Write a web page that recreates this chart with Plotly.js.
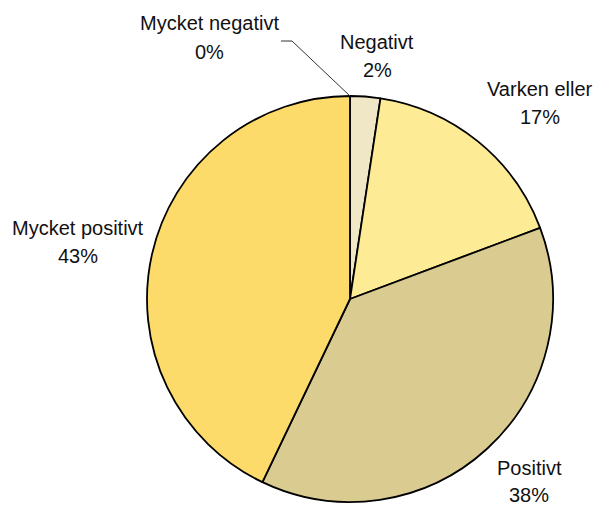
<!DOCTYPE html>
<html>
<head>
<meta charset="utf-8">
<script src="https://cdn.plot.ly/plotly-3.0.1.min.js"></script>
<style>html,body{margin:0;padding:0;background:#fff;}#chart{width:596px;height:505px;}</style>
</head>
<body>
<div id="chart"></div>
<script>
// Data
const categories = ["Mycket negativt", "Negativt", "Varken eller", "Positivt", "Mycket positivt"];
const values = [0, 2.4, 16.9, 37.8, 42.9];

// Styles / positions (pixel centres of the two label lines)
const colors = ["#E8D9A0", "#EFE7C6", "#FDEB96", "#DACB91", "#FDDB6B"];
const labelPos = [
  {x: 209, y1: 23, y2: 52},
  {x: 377, y1: 42, y2: 70},
  {x: 540, y1: 89, y2: 117},
  {x: 529, y1: 468, y2: 495},
  {x: 78,  y1: 228, y2: 256}
];

const W = 596, H = 505;
const total = values.reduce((a, b) => a + b, 0);
const font = {family: "Liberation Sans, Arial, sans-serif", size: 20, color: "#111"};

const annotations = [];
categories.forEach((c, i) => {
  const p = labelPos[i];
  const pct = Math.round(values[i] / total * 100) + "%";
  annotations.push({text: c, x: p.x / W, y: 1 - p.y1 / H, xref: "paper", yref: "paper",
    showarrow: false, xanchor: "center", yanchor: "middle", font: font});
  annotations.push({text: pct, x: p.x / W, y: 1 - p.y2 / H, xref: "paper", yref: "paper",
    showarrow: false, xanchor: "center", yanchor: "middle", font: font});
});

const trace = {
  type: "pie",
  labels: categories,
  values: values,
  sort: false,
  direction: "clockwise",
  rotation: 0,
  textinfo: "none",
  hoverinfo: "label+percent",
  marker: {colors: colors, line: {color: "#000", width: 1.8}},
  domain: {x: [147 / W, 553 / W], y: [1 - 502 / H, 1 - 96 / H]},
  showlegend: false
};

const layout = {
  width: W, height: H,
  margin: {l: 0, r: 0, t: 0, b: 0},
  paper_bgcolor: "#fff",
  showlegend: false,
  annotations: annotations,
  shapes: [{
    type: "path", xref: "paper", yref: "paper",
    path: `M ${281 / W} ${1 - 41 / H} L ${292 / W} ${1 - 41 / H} L ${350 / W} ${1 - 96 / H}`,
    line: {color: "#333", width: 1}
  }]
};

Plotly.newPlot("chart", [trace], layout, {displayModeBar: false, staticPlot: true});
</script>
</body>
</html>
